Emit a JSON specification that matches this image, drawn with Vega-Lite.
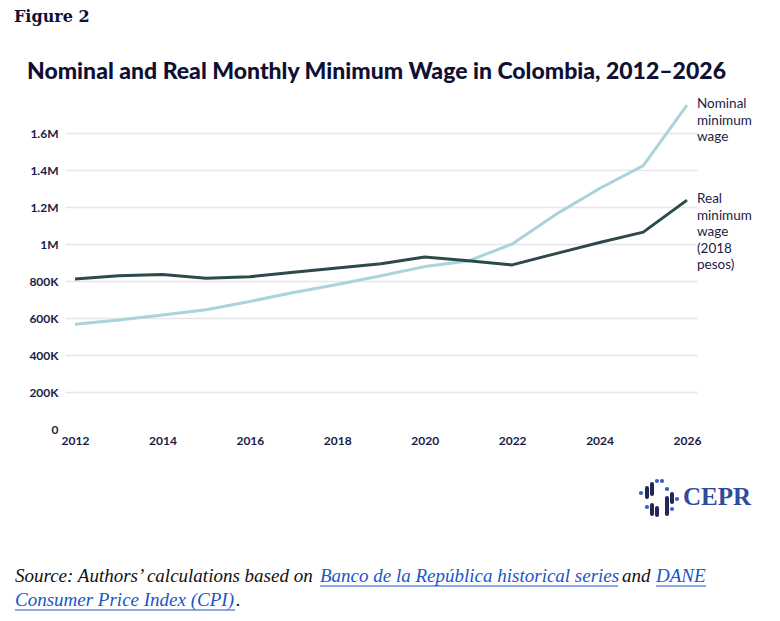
{
  "$schema": "https://vega.github.io/schema/vega-lite/v6.json",
  "autosize": {"type": "none"},
  "padding": {"left": 65, "top": 96, "right": 83, "bottom": 192},
  "width": 632,
  "height": 333,
  "background": "white",
  "datasets": {
    "wages": [
      {"year": 2012, "series": "Nominal", "wage": 566700},
      {"year": 2013, "series": "Nominal", "wage": 589500},
      {"year": 2014, "series": "Nominal", "wage": 616000},
      {"year": 2015, "series": "Nominal", "wage": 644350},
      {"year": 2016, "series": "Nominal", "wage": 689455},
      {"year": 2017, "series": "Nominal", "wage": 737717},
      {"year": 2018, "series": "Nominal", "wage": 781242},
      {"year": 2019, "series": "Nominal", "wage": 828116},
      {"year": 2020, "series": "Nominal", "wage": 877803},
      {"year": 2021, "series": "Nominal", "wage": 908526},
      {"year": 2022, "series": "Nominal", "wage": 1000000},
      {"year": 2023, "series": "Nominal", "wage": 1160000},
      {"year": 2024, "series": "Nominal", "wage": 1300000},
      {"year": 2025, "series": "Nominal", "wage": 1423500},
      {"year": 2026, "series": "Nominal", "wage": 1750905},
      {"year": 2012, "series": "Real", "wage": 811000},
      {"year": 2013, "series": "Real", "wage": 828000},
      {"year": 2014, "series": "Real", "wage": 835000},
      {"year": 2015, "series": "Real", "wage": 815000},
      {"year": 2016, "series": "Real", "wage": 823000},
      {"year": 2017, "series": "Real", "wage": 847000},
      {"year": 2018, "series": "Real", "wage": 870000},
      {"year": 2019, "series": "Real", "wage": 893000},
      {"year": 2020, "series": "Real", "wage": 930000},
      {"year": 2021, "series": "Real", "wage": 909000},
      {"year": 2022, "series": "Real", "wage": 887000},
      {"year": 2023, "series": "Real", "wage": 948000},
      {"year": 2024, "series": "Real", "wage": 1008000},
      {"year": 2025, "series": "Real", "wage": 1064000},
      {"year": 2026, "series": "Real", "wage": 1237000}
    ]
  },
  "config": {
    "view": {"stroke": null},
    "axis": {
      "labelFont": "Lato",
      "labelFontWeight": "bold",
      "labelFontSize": 12,
      "labelColor": "#1b1c44",
      "domain": false,
      "ticks": false,
      "title": null
    }
  },
  "layer": [
    {
      "data": {"name": "wages"},
      "mark": {"type": "line", "strokeWidth": 3, "strokeJoin": "round"},
      "encoding": {
        "x": {
          "field": "year",
          "type": "quantitative",
          "scale": {"domain": [2011.7712, 2026.2288], "nice": false, "zero": false},
          "axis": {
            "values": [2012, 2014, 2016, 2018, 2020, 2022, 2024, 2026],
            "format": "d",
            "grid": false,
            "labelPadding": 6
          }
        },
        "y": {
          "field": "wage",
          "type": "quantitative",
          "scale": {"domain": [0, 1800000], "nice": false},
          "axis": {
            "values": [0, 200000, 400000, 600000, 800000, 1000000, 1200000, 1400000, 1600000],
            "labelExpr": "datum.value >= 1000000 ? format(datum.value / 1000000, '~g') + 'M' : datum.value == 0 ? '0' : format(datum.value / 1000, 'd') + 'K'",
            "grid": true,
            "gridColor": {"condition": {"test": "datum.value === 0", "value": "transparent"}, "value": "#e6e6e8"},
            "gridWidth": 1.5,
            "labelPadding": 7
          }
        },
        "color": {
          "field": "series",
          "type": "nominal",
          "scale": {"domain": ["Nominal", "Real"], "range": ["#a9d4d9", "#2c4a4b"]},
          "legend": null
        }
      }
    },
    {
      "data": {"name": "wages"},
      "transform": [{"filter": "datum.year === 2026"}],
      "mark": {
        "type": "text",
        "align": "left",
        "baseline": "top",
        "dx": 10,
        "dy": -8,
        "lineBreak": "\n",
        "lineHeight": 16.5,
        "font": "Lato",
        "fontSize": 13.5,
        "color": "#1b1c44"
      },
      "encoding": {
        "x": {"field": "year", "type": "quantitative"},
        "y": {"field": "wage", "type": "quantitative"},
        "text": {
          "condition": {"test": "datum.series === 'Nominal'", "value": "Nominal\nminimum\nwage"},
          "value": "Real\nminimum\nwage\n(2018\npesos)"
        }
      }
    },
    {
      "data": {"values": [{}]},
      "mark": {"type": "text", "text": "Figure 2", "align": "left", "baseline": "middle", "font": "DejaVu Serif", "fontSize": 16, "fontWeight": "bold", "color": "#0f1034"},
      "encoding": {"x": {"datum": 2010.6046}, "y": {"datum": 2227000}}
    },
    {
      "data": {"values": [{}]},
      "mark": {"type": "text", "text": "Nominal and Real Monthly Minimum Wage in Colombia, 2012–2026", "align": "left", "baseline": "middle", "font": "Lato", "fontSize": 23, "fontWeight": 900, "color": "#0f1034"},
      "encoding": {"x": {"datum": 2010.902}, "y": {"datum": 1929730}}
    },
    {
      "data": {"values": [{}]},
      "mark": {"type": "text", "text": "Source: Authors’ calculations based on ", "align": "left", "baseline": "middle", "font": "Liberation Serif", "fontSize": 19, "fontStyle": "italic", "color": "#111111"},
      "encoding": {"x": {"datum": 2010.6274}, "y": {"datum": -794595}}
    },
    {
      "data": {"values": [{}]},
      "mark": {"type": "text", "text": "Banco de la República historical series", "align": "left", "baseline": "middle", "font": "Liberation Serif", "fontSize": 19, "fontStyle": "italic", "color": "#1a56c4"},
      "encoding": {"x": {"datum": 2017.6046}, "y": {"datum": -794595}}
    },
    {
      "data": {"values": [{}]},
      "mark": {"type": "text", "text": "and", "align": "left", "baseline": "middle", "font": "Liberation Serif", "fontSize": 19, "fontStyle": "italic", "color": "#111111"},
      "encoding": {"x": {"datum": 2024.5131}, "y": {"datum": -794595}}
    },
    {
      "data": {"values": [{}]},
      "mark": {"type": "text", "text": "DANE", "align": "left", "baseline": "middle", "font": "Liberation Serif", "fontSize": 19, "fontStyle": "italic", "color": "#1a56c4"},
      "encoding": {"x": {"datum": 2025.2909}, "y": {"datum": -794595}}
    },
    {
      "data": {"values": [{}]},
      "mark": {"type": "text", "text": "Consumer Price Index (CPI)", "align": "left", "baseline": "middle", "font": "Liberation Serif", "fontSize": 19, "fontStyle": "italic", "color": "#1a56c4"},
      "encoding": {"x": {"datum": 2010.6274}, "y": {"datum": -924324}}
    },
    {
      "data": {"values": [{}]},
      "mark": {"type": "text", "text": ".", "align": "left", "baseline": "middle", "font": "Liberation Serif", "fontSize": 19, "fontStyle": "italic", "color": "#111111"},
      "encoding": {"x": {"datum": 2015.683}, "y": {"datum": -924324}}
    },
    {
      "data": {"values": [{}]},
      "mark": {"type": "rule", "strokeWidth": 1, "color": "#1a56c4"},
      "encoding": {"x": {"datum": 2017.6046}, "x2": {"datum": 2024.4216}, "y": {"datum": -848649}}
    },
    {
      "data": {"values": [{}]},
      "mark": {"type": "rule", "strokeWidth": 1, "color": "#1a56c4"},
      "encoding": {"x": {"datum": 2025.2909}, "x2": {"datum": 2026.4347}, "y": {"datum": -848649}}
    },
    {
      "data": {"values": [{}]},
      "mark": {"type": "rule", "strokeWidth": 1, "color": "#1a56c4"},
      "encoding": {"x": {"datum": 2010.6274}, "x2": {"datum": 2015.6601}, "y": {"datum": -978378}}
    },
    {
      "data": {"values": [{}]},
      "mark": {"type": "text", "text": "CEPR", "align": "left", "baseline": "middle", "font": "Liberation Serif", "fontSize": 25, "fontWeight": "bold", "color": "#2e4c9c"},
      "encoding": {"x": {"datum": 2025.9085}, "y": {"datum": -367568}}
    },
    {
      "data": {"values": [{}]},
      "mark": {"type": "rule", "strokeWidth": 4, "strokeCap": "round", "color": "#232659"},
      "encoding": {"x": {"datum": 2025.085}, "y": {"datum": -318919}, "y2": {"datum": -367568}}
    },
    {
      "data": {"values": [{}]},
      "mark": {"type": "rule", "strokeWidth": 4, "strokeCap": "round", "color": "#232659"},
      "encoding": {"x": {"datum": 2025.1994}, "y": {"datum": -297297}, "y2": {"datum": -351351}}
    },
    {
      "data": {"values": [{}]},
      "mark": {"type": "rule", "strokeWidth": 4, "strokeCap": "round", "color": "#232659"},
      "encoding": {"x": {"datum": 2025.1994}, "y": {"datum": -410811}, "y2": {"datum": -459459}}
    },
    {
      "data": {"values": [{}]},
      "mark": {"type": "rule", "strokeWidth": 4, "strokeCap": "round", "color": "#232659"},
      "encoding": {"x": {"datum": 2025.3137}, "y": {"datum": -427027}, "y2": {"datum": -464865}}
    },
    {
      "data": {"values": [{}]},
      "mark": {"type": "rule", "strokeWidth": 4, "strokeCap": "round", "color": "#232659"},
      "encoding": {"x": {"datum": 2025.5425}, "y": {"datum": -372973}, "y2": {"datum": -459459}}
    },
    {
      "data": {"values": [{}]},
      "mark": {"type": "rule", "strokeWidth": 4, "strokeCap": "round", "color": "#232659"},
      "encoding": {"x": {"datum": 2025.6569}, "y": {"datum": -351351}, "y2": {"datum": -394595}}
    },
    {
      "data": {"values": [{}]},
      "mark": {"type": "circle", "size": 18, "opacity": 1, "color": "#3d5fb5"},
      "encoding": {"x": {"datum": 2024.9477}, "y": {"datum": -345946}}
    },
    {
      "data": {"values": [{}]},
      "mark": {"type": "circle", "size": 18, "opacity": 1, "color": "#3d5fb5"},
      "encoding": {"x": {"datum": 2025.085}, "y": {"datum": -421622}}
    },
    {
      "data": {"values": [{}]},
      "mark": {"type": "circle", "size": 18, "opacity": 1, "color": "#3d5fb5"},
      "encoding": {"x": {"datum": 2025.3137}, "y": {"datum": -281081}}
    },
    {
      "data": {"values": [{}]},
      "mark": {"type": "circle", "size": 18, "opacity": 1, "color": "#3d5fb5"},
      "encoding": {"x": {"datum": 2025.4281}, "y": {"datum": -281081}}
    },
    {
      "data": {"values": [{}]},
      "mark": {"type": "circle", "size": 18, "opacity": 1, "color": "#3d5fb5"},
      "encoding": {"x": {"datum": 2025.5425}, "y": {"datum": -324324}}
    },
    {
      "data": {"values": [{}]},
      "mark": {"type": "circle", "size": 18, "opacity": 1, "color": "#3d5fb5"},
      "encoding": {"x": {"datum": 2025.6569}, "y": {"datum": -432432}}
    },
    {
      "data": {"values": [{}]},
      "mark": {"type": "circle", "size": 18, "opacity": 1, "color": "#3d5fb5"},
      "encoding": {"x": {"datum": 2025.7712}, "y": {"datum": -378378}}
    }
  ]
}
